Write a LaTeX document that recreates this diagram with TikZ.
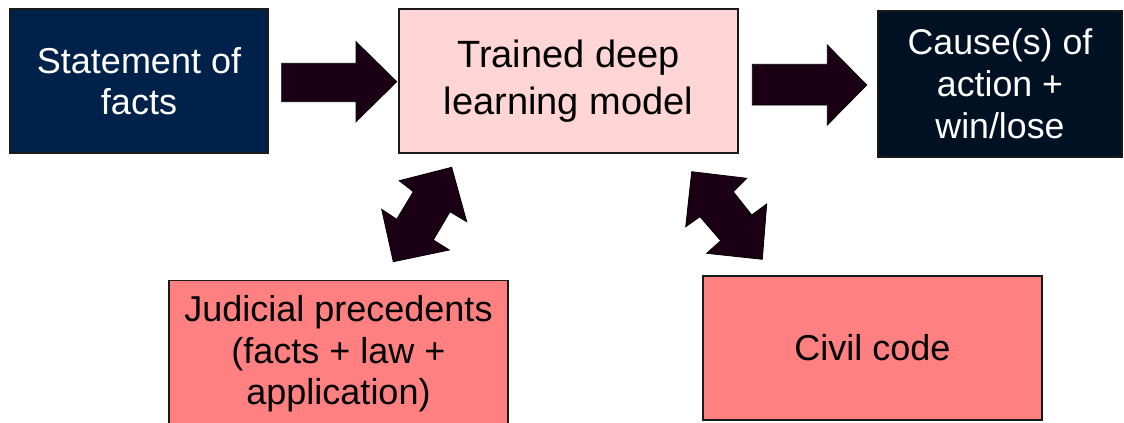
\documentclass[tikz,border=0pt]{standalone}
\usepackage{fontspec}
\setmainfont{Liberation Sans}
\definecolor{navy}{HTML}{00224A}
\definecolor{darknavy}{HTML}{011124}
\definecolor{lightpink}{HTML}{FFD5D5}
\definecolor{salmon}{HTML}{FF8080}
\definecolor{arrowfill}{HTML}{1B0015}
\definecolor{edge}{HTML}{1A1A1A}
\tikzset{
  box/.style={draw=edge, line width=1pt, rectangle, align=center, inner sep=0pt},
  blockarrow/.style={fill=arrowfill, draw=black, line width=0.6pt, line join=miter},
}
\begin{document}
\begin{tikzpicture}[x=0.75pt, y=-0.75pt]
\useasboundingbox (0,0) rectangle (1124,422);
\clip (0,0) rectangle (1124,422);
% boxes
\node[box, fill=navy, text=white, minimum width=193.5pt, minimum height=108pt,
      font=\fontsize{27}{30.5}\selectfont] (facts) at (139,81) {Statement of\\facts};
\node[box, fill=lightpink, text=black, minimum width=254.25pt, minimum height=108pt,
      font=\fontsize{28.5}{35}\selectfont] (model) at (568.5,81) {Trained deep\\learning model};
\node[box, fill=darknavy, text=white, minimum width=183pt, minimum height=109.5pt,
      font=\fontsize{26.8}{31.5}\selectfont] (cause) at (1000,84) {Cause(s) of\\action +\\win/lose};
\node[box, fill=salmon, text=black, minimum width=254.25pt, minimum height=110pt,
      font=\fontsize{27}{31}\selectfont] (prec) at (338.5,354) {Judicial precedents\\(facts + law +\\application)};
\node[box, fill=salmon, text=black, minimum width=254.25pt, minimum height=108pt,
      font=\fontsize{27}{31}\selectfont] (civil) at (872.5,348) {Civil code};
% block arrows
\draw[blockarrow] (281.7,63.3) -- (356,63.3) -- (356,41.7) -- (396.7,81.7)
   -- (356,121.7) -- (356,101.7) -- (281.7,101.7) -- cycle;
\draw[blockarrow] (752.3,64.3) -- (827.3,64.3) -- (827.3,45) -- (866.7,85)
   -- (827.3,125) -- (827.3,105) -- (752.3,105) -- cycle;
\draw[blockarrow] (399.3,180.7) -- (451.7,167.3) -- (466.7,221.7) -- (450,211.7)
   -- (433.3,240) -- (449.3,250) -- (393.3,261.7) -- (381.7,209.3)
   -- (396.7,219.3) -- (413.3,191.7) -- cycle;
\draw[blockarrow] (691.7,171.7) -- (746.7,178.3) -- (733.3,191.7) -- (751.7,215)
   -- (766.7,204) -- (762.3,259.3) -- (706.7,253.3) -- (720.7,240.7)
   -- (700,216.7) -- (685.7,226.7) -- cycle;
\end{tikzpicture}
\end{document}
